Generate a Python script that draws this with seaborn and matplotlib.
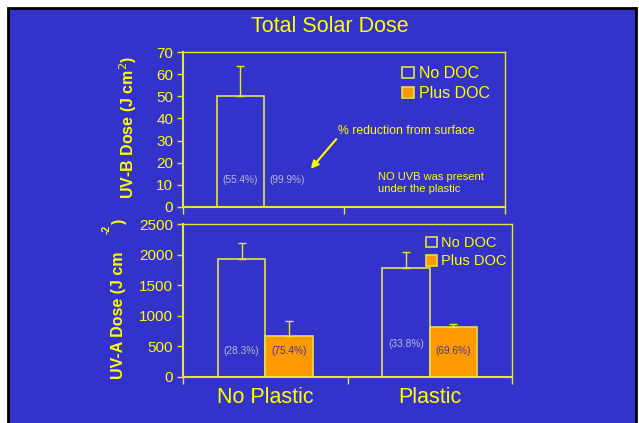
import pandas as pd
import seaborn as sns
import matplotlib.pyplot as plt
from matplotlib.patches import Rectangle, Patch

# Data
treatments = ["No Plastic", "Plastic"]
doc_levels = ["No DOC", "Plus DOC"]

uvb_no_doc = [50.0, 0.0]
uvb_plus_doc = [0.05, 0.0]
uvb_err_no_doc = [13.5, 0.0]
uvb_err_plus_doc = [0.0, 0.0]

uva_no_doc = [1920, 1775]
uva_plus_doc = [665, 820]
uva_err_no_doc = [265, 260]
uva_err_plus_doc = [250, 45]

uvb_pct_no_doc = ["(55.4%)", ""]
uvb_pct_plus_doc = ["(99.9%)", ""]
uva_pct_no_doc = ["(28.3%)", "(33.8%)"]
uva_pct_plus_doc = ["(75.4%)", "(69.6%)"]

BLUE = "#3333CC"
YELLOW = "#FFFF00"
SPINE = "#E6E633"
ORANGE = "#FF9900"
EDGE = "#E0E050"
GREY = "#B8B8D0"
PURPLE = "#4B3399"

plt.rcParams["font.family"] = ["Liberation Sans", "DejaVu Sans"]


def make_df(no_doc, plus_doc):
    return pd.DataFrame({
        "treatment": treatments * 2,
        "doc": [doc_levels[0]] * 2 + [doc_levels[1]] * 2,
        "dose": list(no_doc) + list(plus_doc),
    })


def style_axes(ax, ticks, ylim):
    ax.set_facecolor(BLUE)
    for side in ["left", "bottom", "top", "right"]:
        ax.spines[side].set_color(SPINE)
    ax.spines["left"].set_linewidth(1.5)
    ax.spines["bottom"].set_linewidth(1.5)
    ax.spines["top"].set_linewidth(1.0)
    ax.spines["right"].set_linewidth(1.0)
    ax.set_ylim(*ylim)
    ax.set_yticks(ticks)
    ax.set_xlim(-0.5, 1.5)
    ax.tick_params(axis="y", colors=SPINE, labelcolor=YELLOW, labelsize=11,
                   length=4, width=1, direction="out", pad=3)
    ax.set_xticks([-0.5, 0.5, 1.5], minor=True)
    ax.tick_params(axis="x", which="minor", colors=SPINE, length=5, width=1,
                   direction="out")
    ax.tick_params(axis="x", which="major", length=0)
    ax.set_xlabel("")
    ax.set_ylabel("")


def draw_panel(ax, no_doc, plus_doc, err_no, err_plus, pct_no, pct_plus,
               ytxt, colors):
    df = make_df(no_doc, plus_doc)
    sns.barplot(data=df, x="treatment", y="dose", hue="doc", order=treatments,
                hue_order=doc_levels, palette=[BLUE, ORANGE], width=0.575,
                edgecolor=EDGE, linewidth=1.2, saturation=1, errorbar=None,
                legend=False, ax=ax)
    bars = ax.patches[:4]
    xs = [b.get_x() + b.get_width() / 2 for b in bars]
    vals = list(no_doc) + list(plus_doc)
    errs = list(err_no) + list(err_plus)
    for x, v, e in zip(xs, vals, errs):
        if e > 0:
            ax.errorbar(x, v, yerr=[[0], [e]], fmt="none", ecolor=SPINE,
                        elinewidth=1, capsize=3, capthick=1)
    labels = list(pct_no) + list(pct_plus)
    for x, lab, c, yt in zip(xs, labels, colors, ytxt):
        if lab:
            ax.text(x, yt, lab, ha="center", va="center", fontsize=7.3, color=c)


def add_legend(ax, loc, size):
    handles = [Patch(facecolor=BLUE, edgecolor=EDGE, linewidth=1.2),
               Patch(facecolor=ORANGE, edgecolor=EDGE, linewidth=1.2)]
    leg = ax.legend(handles, doc_levels, loc="upper left", bbox_to_anchor=loc,
                    frameon=False, fontsize=size, handlelength=0.75,
                    handleheight=0.75, handletextpad=0.3, labelspacing=0.3,
                    borderaxespad=0)
    for t in leg.get_texts():
        t.set_color(YELLOW)


fig = plt.figure(figsize=(6.39, 4.23), dpi=100, facecolor="white")
fig.patches.append(Rectangle((8 / 639, -0.05), 628 / 639, 415 / 423 + 0.05,
                             transform=fig.transFigure, facecolor=BLUE,
                             edgecolor="black", linewidth=2, zorder=-1))

ax1 = fig.add_axes([183 / 639, 1 - 207 / 423, 322 / 639, 155 / 423])
ax2 = fig.add_axes([183 / 639, 1 - 377 / 423, 329 / 639, 153 / 423])

draw_panel(ax1, uvb_no_doc, uvb_plus_doc, uvb_err_no_doc, uvb_err_plus_doc,
           uvb_pct_no_doc, uvb_pct_plus_doc, [12.2, 12.2, 12.2, 12.2],
           [GREY, GREY, GREY, GREY])
style_axes(ax1, range(0, 71, 10), (0, 70))
ax1.set_xticklabels([])
add_legend(ax1, (0.66, 0.95), 11.5)

draw_panel(ax2, uva_no_doc, uva_plus_doc, uva_err_no_doc, uva_err_plus_doc,
           uva_pct_no_doc, uva_pct_plus_doc, [425, 540, 425, 425],
           [GREY, GREY, PURPLE, PURPLE])
style_axes(ax2, range(0, 2501, 500), (0, 2500))
ax2.set_xticks([0, 1])
ax2.set_xticklabels(treatments, fontsize=15.5, color=YELLOW)
ax2.tick_params(axis="x", which="major", pad=7)
add_legend(ax2, (0.72, 0.96), 10.5)

# annotations in the UV-B panel
ax1.annotate("", xy=(0.283, 16.3), xytext=(0.463, 31.6),
             arrowprops=dict(arrowstyle="-|>", color=YELLOW, lw=1.5,
                             mutation_scale=11))
ax1.text(0.463, 34.3, "% reduction from surface", fontsize=8.8,
         color=YELLOW, va="center", ha="left")
ax1.text(0.711, 10.8, "NO UVB was present\nunder the plastic", fontsize=8,
         color=YELLOW, va="center", ha="left", linespacing=1.3)

# titles and axis labels
fig.text(330 / 639, 1 - 27 / 423, "Total Solar Dose", fontsize=15.5,
         color=YELLOW, ha="center", va="center")
fig.text(128 / 639, 1 - 127 / 423, "UV-B Dose (J cm$^{2}$)", fontsize=11.5,
         fontweight="bold", color=YELLOW, rotation=90, ha="center",
         va="center")
fig.text(118 / 639, 1 - 315 / 423, "UV-A Dose (J cm", fontsize=11.5,
         fontweight="bold", color=YELLOW, rotation=90, ha="center",
         va="center")
fig.text(107 / 639, 1 - 229 / 423, "-2", fontsize=7.5, fontweight="bold",
         color=YELLOW, rotation=90, ha="center", va="center")
fig.text(119 / 639, 1 - 221 / 423, ")", fontsize=11.5, fontweight="bold",
         color=YELLOW, rotation=90, ha="center", va="center")

fig.savefig("out.png", dpi=100, facecolor="white")
